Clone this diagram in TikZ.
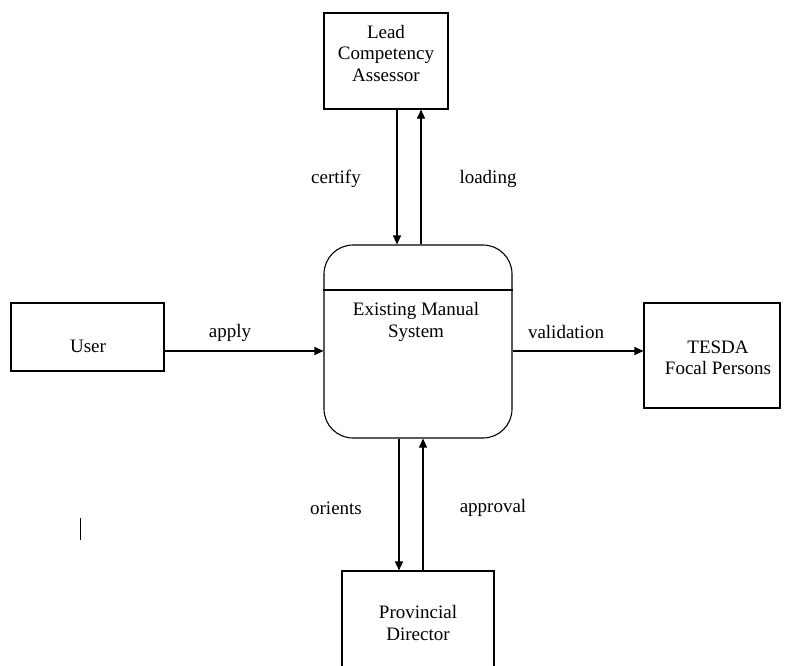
\documentclass[tikz,border=0pt]{standalone}
\usepackage{fontspec}
\setmainfont{Liberation Serif}
\usetikzlibrary{arrows.meta}
\begin{document}
\begin{tikzpicture}[x=1pt,y=-1pt,
  txt/.style={font=\fontsize{19}{21.5}\selectfont, align=center, inner sep=0pt},
  ent/.style={draw, line width=1.1pt, inner sep=0pt},
  flow/.style={line width=1.1pt, -{Triangle[length=9pt,width=8pt]}},
  lbl/.style={font=\fontsize{19}{21.5}\selectfont, inner sep=0pt}]
\useasboundingbox (0,0) rectangle (785,665);
\clip (0,0) rectangle (785,665);
% entities
\node[ent, minimum width=124pt, minimum height=96pt] (lead) at (386,61) {};
\node[txt] (leadt) at (386,53) {Lead\\Competency\\Assessor};
\node[ent, minimum width=153pt, minimum height=68pt] (user) at (87.5,337) {};
\node[txt] (usert) at (88,346) {User};
\node[ent, minimum width=136pt, minimum height=105pt] (tesda) at (712,355.5) {};
\node[txt] (tesdat) at (718,358) {TESDA\\Focal Persons};
\node[ent, minimum width=152pt, minimum height=104pt] (prov) at (418,623) {};
\node[txt] (provt) at (418,623) {Provincial\\Director};
% process
\node[draw, line width=1.1pt, rounded corners=29pt, minimum width=188pt, minimum height=193pt, inner sep=0pt] (proc) at (418,341.5) {};
\draw[line width=1.1pt] (proc.west |- 0,290) -- (proc.east |- 0,290);
\node[txt] (proct) at (416,322) {Existing Manual\\System};
% flows
\draw[flow] (lead.south -| 397,0) -- (proc.north -| 397,0);
\draw[flow] (proc.north -| 421,0) -- (lead.south -| 421,0);
\draw[flow] (user.east |- 0,351) -- (proc.west |- 0,351);
\draw[flow] (proc.east |- 0,351) -- (tesda.west |- 0,351);
\draw[flow] (proc.south -| 399,0) -- (prov.north -| 399,0);
\draw[flow] (prov.north -| 423,0) -- (proc.south -| 423,0);
% labels
\node[lbl] (l1) at (336,179) {certify};
\node[lbl] (l2) at (488,179) {loading};
\node[lbl] (l3) at (230,333) {apply};
\node[lbl] (l4) at (566,332) {validation};
\node[lbl] (l5) at (336,508) {orients};
\node[lbl] (l6) at (493,508) {approval};
% stray mark
\coordinate (m1) at (80,518);
\coordinate (m2) at (80,540);
\draw[line width=1pt] (m1) -- (m2);
\end{tikzpicture}
\end{document}
